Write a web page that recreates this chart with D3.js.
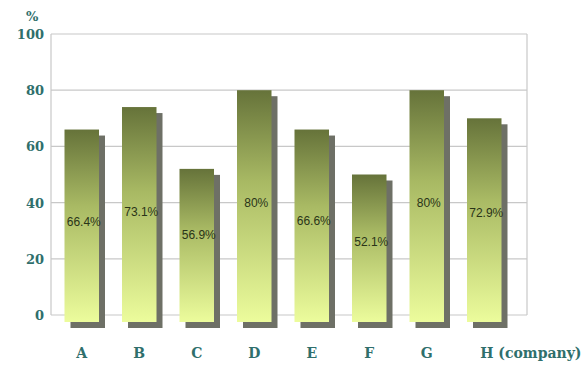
<!DOCTYPE html>
<html>
<head>
<meta charset="utf-8">
<script src="https://cdn.jsdelivr.net/npm/d3@7"></script>
<style>
  body { margin: 0; background: #fff; }
  svg { display: block; }
</style>
</head>
<body>
<svg id="chart" width="586" height="367"></svg>
<script>
const categories = ["A", "B", "C", "D", "E", "F", "G", "H"];
const barValues = [66, 74, 52, 80, 66, 50, 80, 70];
const labelValues = [66.4, 73.1, 56.9, 80, 66.6, 52.1, 80, 72.9];
const labelTexts = ["66.4%", "73.1%", "56.9%", "80%", "66.6%", "52.1%", "80%", "72.9%"];
const yTicks = [0, 20, 40, 60, 80, 100];

const svg = d3.select("#chart");
const plot = { left: 51, right: 527, top: 34, bottom: 315 };

const x = d3.scaleBand()
  .domain(categories)
  .range([53, 513])
  .paddingInner(0.4)
  .paddingOuter(0.2);

const y = d3.scaleLinear()
  .domain([0, 100])
  .range([plot.bottom, plot.top]);

const defs = svg.append("defs");
const grad = defs.append("linearGradient")
  .attr("id", "barGrad")
  .attr("x1", 0).attr("y1", 0).attr("x2", 0).attr("y2", 1);
grad.append("stop").attr("offset", "0%").attr("stop-color", "#66733a");
grad.append("stop").attr("offset", "40%").attr("stop-color", "#a9ba64");
grad.append("stop").attr("offset", "100%").attr("stop-color", "#ecfc9c");

// gridlines
svg.append("g")
  .selectAll("line")
  .data(yTicks)
  .join("line")
  .attr("x1", plot.left)
  .attr("x2", plot.right)
  .attr("y1", d => y(d))
  .attr("y2", d => y(d))
  .attr("stroke", "#c8c8c8")
  .attr("stroke-width", 1.2);

svg.append("line")
  .attr("x1", plot.left).attr("x2", plot.left)
  .attr("y1", plot.top).attr("y2", plot.bottom)
  .attr("stroke", "#c8c8c8").attr("stroke-width", 1.2);
svg.append("line")
  .attr("x1", plot.right).attr("x2", plot.right)
  .attr("y1", plot.top).attr("y2", plot.bottom)
  .attr("stroke", "#c8c8c8").attr("stroke-width", 1.2);

// y tick labels
svg.append("g")
  .selectAll("text")
  .data(yTicks)
  .join("text")
  .attr("x", 44)
  .attr("y", d => y(d) + 5)
  .attr("text-anchor", "end")
  .attr("font-family", "'DejaVu Serif', serif")
  .attr("font-weight", "bold")
  .attr("font-size", 13)
  .attr("fill", "#2f6f6c")
  .text(d => d);

svg.append("text")
  .attr("x", 26).attr("y", 21)
  .attr("font-family", "'DejaVu Serif', serif")
  .attr("font-weight", "bold")
  .attr("font-size", 13)
  .attr("fill", "#2f6f6c")
  .text("%");

const depth = 6;
const base = y(0) + 7;

// shadows
svg.append("g")
  .selectAll("rect")
  .data(categories)
  .join("rect")
  .attr("x", d => x(d) + depth)
  .attr("y", (d, i) => y(barValues[i]) + depth)
  .attr("width", x.bandwidth())
  .attr("height", (d, i) => base - y(barValues[i]))
  .attr("fill", "#6e7066");

// bars
svg.append("g")
  .selectAll("rect")
  .data(categories)
  .join("rect")
  .attr("x", d => x(d))
  .attr("y", (d, i) => y(barValues[i]))
  .attr("width", x.bandwidth())
  .attr("height", (d, i) => base - y(barValues[i]))
  .attr("fill", "url(#barGrad)");

// value labels
svg.append("g")
  .selectAll("text")
  .data(categories)
  .join("text")
  .attr("x", d => x(d) + x.bandwidth() / 2 + 2)
  .attr("y", (d, i) => y(labelValues[i] / 2) + 4)
  .attr("text-anchor", "middle")
  .attr("font-family", "'Liberation Sans', sans-serif")
  .attr("font-size", 12)
  .attr("fill", "#2a3418")
  .text((d, i) => labelTexts[i]);

// category labels
svg.append("g")
  .selectAll("text")
  .data(categories)
  .join("text")
  .attr("x", d => x(d) + x.bandwidth() / 2 + (d === "H" ? -4 : 0))
  .attr("y", 358)
  .attr("text-anchor", d => d === "H" ? "start" : "middle")
  .attr("font-family", "'DejaVu Serif', serif")
  .attr("font-weight", "bold")
  .attr("font-size", 14)
  .attr("fill", "#2f6f6c")
  .text(d => d === "H" ? "H (company)" : d);
</script>
</body>
</html>
